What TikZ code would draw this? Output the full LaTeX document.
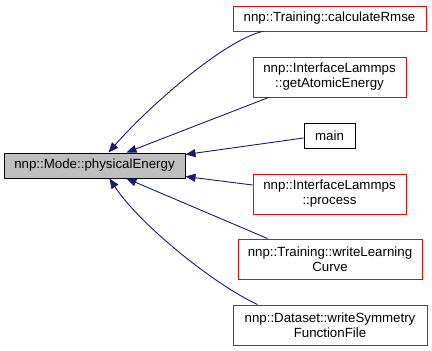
\documentclass[tikz,border=0pt]{standalone}
\usepackage{fontspec}
\setmainfont{Liberation Sans}
\usetikzlibrary{arrows.meta,calc}

\definecolor{edgeblue}{HTML}{191970}
\definecolor{fillgrey}{HTML}{BFBFBF}

\tikzset{
  fn/.style={draw, rectangle, line width=1pt, inner sep=0pt, align=center,
    font=\fontsize{13.3}{15}\selectfont, text=black},
  caller/.style={fn, draw=red, fill=white},
  plain/.style={fn, draw=black, fill=white},
  focus/.style={fn, draw=black, fill=fillgrey},
  edge/.style={draw=edgeblue, line width=0.9pt,
    -{Triangle[length=10pt,width=8pt,fill=edgeblue]}},
}

\begin{document}
\begin{tikzpicture}[x=1pt,y=-1pt]
\useasboundingbox (0,0) rectangle (432,351);

% the documented member and its callers
\node[focus, minimum width=181pt, minimum height=25pt] (phys) at (94.5,165.5) {nnp::Mode::physicalEnergy};

\node[caller, minimum width=193pt, minimum height=25pt] (rmse) at (329.5,18.5) {nnp::Training::calculateRmse};
\node[caller, minimum width=153pt, minimum height=40pt] (gae) at (329.5,77) {nnp::InterfaceLammps\\::getAtomicEnergy};
\node[plain, minimum width=51pt, minimum height=25pt] (mainfn) at (329.5,135.5) {main};
\node[caller, minimum width=153pt, minimum height=40pt] (proc) at (329.5,194) {nnp::InterfaceLammps\\::process};
\node[caller, minimum width=184pt, minimum height=40pt] (wlc) at (330,259) {nnp::Training::writeLearning\\Curve};
\node[caller, minimum width=194pt, minimum height=40pt] (wsf) at (330,325) {nnp::Dataset::writeSymmetry\\FunctionFile};

% call edges, arrow tips on the called function
\draw[edge] ($(rmse.south west)+(30,0)$) .. controls (225,40) and (150,105) .. ($(phys.north west)+(105,0)$);
\draw[edge] ($(gae.south west)+(16,0)$) -- ($(phys.north west)+(123,0)$);
\draw[edge] ($(mainfn.west)+(0,2.5)$) -- ($(phys.north east)+(0,2)$);
\draw[edge] ($(proc.west)+(0,-9)$) -- ($(phys.south east)+(0,-2)$);
\draw[edge] ($(wlc.north west)+(30,0)$) -- ($(phys.south west)+(123,0)$);
\draw[edge] ($(wsf.north west)+(25,0)$) .. controls (215,285) and (140,225) .. ($(phys.south west)+(106,0)$);
\end{tikzpicture}
\end{document}
